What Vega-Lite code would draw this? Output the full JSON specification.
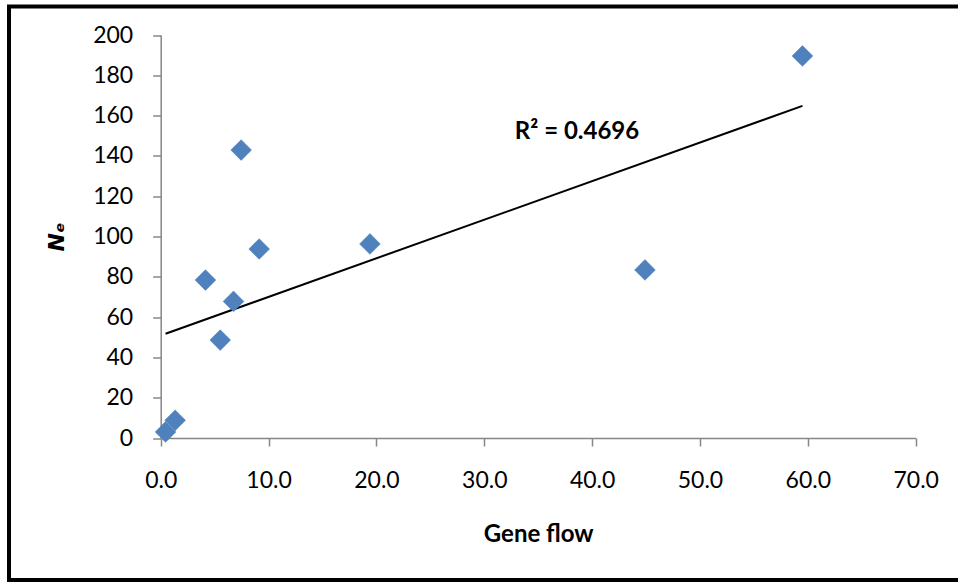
{
  "$schema": "https://vega.github.io/schema/vega-lite/v6.json",
  "autosize": "none",
  "width": 953,
  "height": 573.5,
  "padding": {"left": 9, "top": 6.5, "right": -4, "bottom": 2},
  "background": "white",
  "config": {
    "view": {"stroke": "black", "strokeWidth": 4},
    "font": "Lato",
    "axis": {
      "grid": false,
      "domainColor": "#868686",
      "domainWidth": 1.5,
      "tickColor": "#868686",
      "tickWidth": 1.5,
      "tickSize": 8,
      "labelFont": "Lato",
      "labelFontSize": 23,
      "labelColor": "black",
      "labelFlush": false,
      "labelOverlap": false,
      "titleFont": "Lato",
      "titleFontSize": 24,
      "titleFontWeight": "bold",
      "titleColor": "black"
    }
  },
  "datasets": {
    "points": [
      {"gene_flow": 0.45, "Ne": 3.0},
      {"gene_flow": 1.34, "Ne": 8.8},
      {"gene_flow": 4.15, "Ne": 78.4},
      {"gene_flow": 5.52, "Ne": 48.6},
      {"gene_flow": 6.75, "Ne": 67.8},
      {"gene_flow": 7.46, "Ne": 142.9},
      {"gene_flow": 9.13, "Ne": 93.8},
      {"gene_flow": 19.4, "Ne": 96.3},
      {"gene_flow": 44.9, "Ne": 83.4},
      {"gene_flow": 59.5, "Ne": 189.6}
    ],
    "annotation": [
      {"gene_flow": 38.6, "Ne": 152, "label": "R² = 0.4696"}
    ]
  },
  "layer": [
    {
      "data": {"name": "points"},
      "transform": [{"regression": "Ne", "on": "gene_flow"}],
      "mark": {"type": "line", "color": "black", "strokeWidth": 2},
      "encoding": {
        "x": {
          "field": "gene_flow", "type": "quantitative",
          "scale": {"domain": [0, 70], "range": [151.7, 906.7], "nice": false, "zero": false},
          "axis": {
            "title": "Gene flow",
            "orient": "bottom",
            "offset": -142,
            "values": [0, 10, 20, 30, 40, 50, 60, 70],
            "format": ".1f",
            "labelPadding": 23,
            "titlePadding": 30
          }
        },
        "y": {
          "field": "Ne", "type": "quantitative",
          "scale": {"domain": [0, 200], "range": [431.5, 28.5], "nice": false, "zero": false},
          "axis": {
            "title": "Nₑ",
            "titleFont": "DejaVu Sans",
            "titleFontStyle": "italic",
            "titleFontSize": 22,
            "orient": "left",
            "offset": -151.7,
            "values": [0, 20, 40, 60, 80, 100, 120, 140, 160, 180, 200],
            "format": "d",
            "labelPadding": 20,
            "titlePadding": 24
          }
        }
      }
    },
    {
      "data": {"name": "points"},
      "mark": {"type": "point", "shape": "diamond", "filled": true, "size": 430, "color": "#4F81BD", "opacity": 1, "stroke": "#4A7EBB", "strokeWidth": 0.5},
      "encoding": {
        "x": {"field": "gene_flow", "type": "quantitative"},
        "y": {"field": "Ne", "type": "quantitative"}
      }
    },
    {
      "data": {"name": "annotation"},
      "mark": {"type": "text", "fontWeight": "bold", "fontSize": 24, "font": "Lato", "color": "black", "align": "center", "baseline": "middle"},
      "encoding": {
        "x": {"field": "gene_flow", "type": "quantitative"},
        "y": {"field": "Ne", "type": "quantitative"},
        "text": {"field": "label"}
      }
    }
  ]
}
